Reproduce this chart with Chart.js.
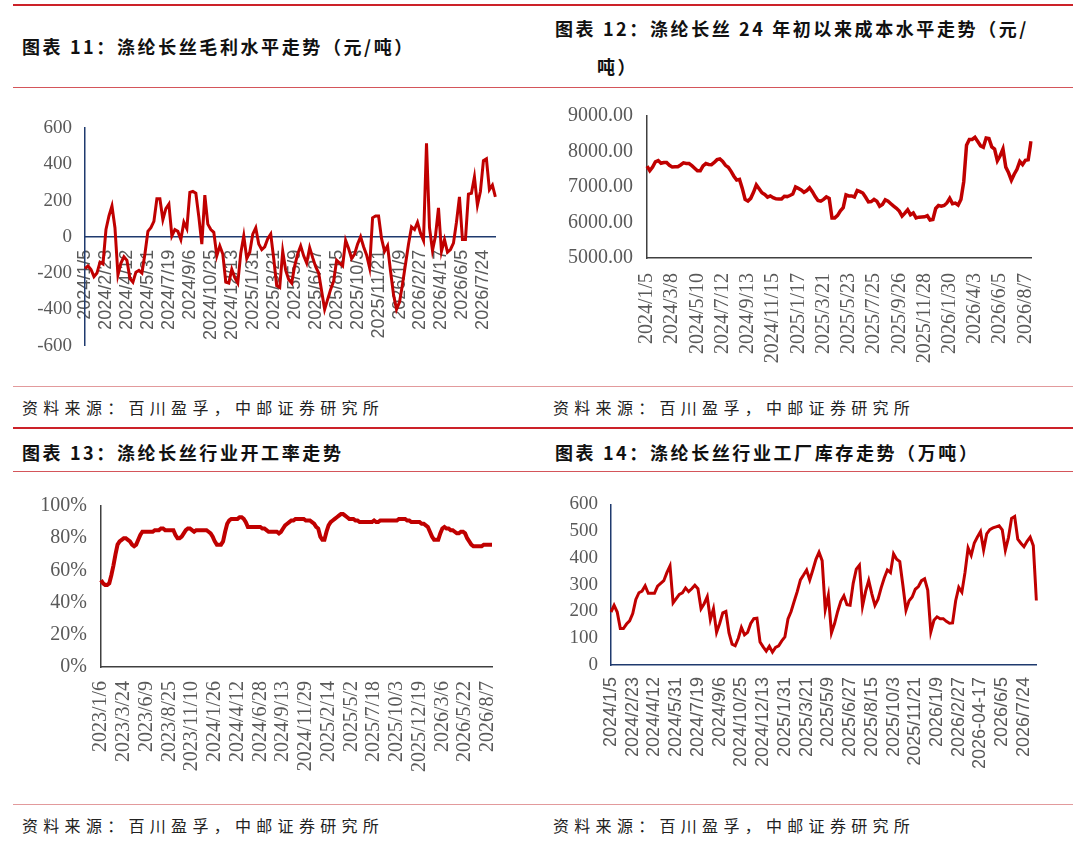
<!DOCTYPE html>
<html>
<head>
<meta charset="utf-8">
<script src="https://cdn.jsdelivr.net/npm/chart.js@4.4.1/dist/chart.umd.min.js"></script>
<style>
  body { margin: 0; width: 1080px; height: 854px; background: #fff; position: relative; overflow: hidden; font-family: "Noto Sans CJK SC", sans-serif; }
  .rule { position: absolute; left: 13px; width: 1060px; }
  .thick { height: 2px; background: #cc2229; }
  .thin { height: 1px; background: #d4555a; }
  .pale { height: 1px; background: #e29a9c; }
  .title { position: absolute; font-size: 18px; font-weight: 700; letter-spacing: 2.6px; color: #111; white-space: nowrap; line-height: 18px; }
  .src { position: absolute; font-size: 16px; letter-spacing: 5.3px; color: #222; white-space: nowrap; line-height: 17px; }
  .box { position: absolute; }
</style>
</head>
<body>
<div class="rule thick" style="top:4px"></div>
<div class="title" style="left:22px;top:37px">图表 11：涤纶长丝毛利水平走势（元/吨）</div>
<div class="title" style="left:555px;top:19px">图表 12：涤纶长丝 24 年初以来成本水平走势（元/</div>
<div class="title" style="left:597px;top:57px">吨）</div>
<div class="rule thin" style="top:87px"></div>

<div class="box" style="left:0;top:100px;width:530px;height:270px"><canvas id="c11"></canvas></div>
<div class="box" style="left:540px;top:90px;width:530px;height:290px"><canvas id="c12"></canvas></div>

<div class="rule pale" style="top:386px"></div>
<div class="src" style="left:22px;top:399px">资料来源：百川盈孚，中邮证券研究所</div>
<div class="src" style="left:553px;top:399px">资料来源：百川盈孚，中邮证券研究所</div>
<div class="rule thick" style="top:427px"></div>
<div class="title" style="left:22px;top:443px">图表 13：涤纶长丝行业开工率走势</div>
<div class="title" style="left:555px;top:443px">图表 14：涤纶长丝行业工厂库存走势（万吨）</div>
<div class="rule thin" style="top:471px"></div>

<div class="box" style="left:0;top:480px;width:530px;height:310px"><canvas id="c13"></canvas></div>
<div class="box" style="left:540px;top:480px;width:530px;height:310px"><canvas id="c14"></canvas></div>

<div class="rule pale" style="top:804px"></div>
<div class="src" style="left:22px;top:817px">资料来源：百川盈孚，中邮证券研究所</div>
<div class="src" style="left:553px;top:817px">资料来源：百川盈孚，中邮证券研究所</div>

<script>
// weekly series, tick label shown every few weeks
const ticks11 = ['2024/1/5', '2024/2/23', '2024/4/12', '2024/5/31', '2024/7/19', '2024/9/6', '2024/10/25', '2024/12/13', '2025/1/31', '2025/3/21',
  '2025/5/9', '2025/6/27', '2025/8/15', '2025/10/3', '2025/11/21', '2026/1/9', '2026/2/27', '2026/4/17', '2026/6/5', '2026/7/24'];
const margin11 = [-175, -160, -180, -220, -200, -140, -150, 40, 115, 170,
  50, -210, -145, -110, -130, -230, -250, -195, -185, -200,
  -95, 30, 50, 85, 210, 210, 95, 155, 180, 5,
  40, 30, -15, 80, 45, 245, 250, 240, 110, -40,
  230, 70, 40, 25, -105, -50, -95, -250, -255, -180,
  -225, -255, -90, 5, -120, -85, 15, 50, -40, -70,
  -55, -10, 15, -120, -270, -280, -80, -185, -235, -255,
  -160, -95, -50, -105, -145, -60, -115, -165, -200, -300,
  -400, -345, -290, -245, -130, -145, -160, -20, -65, -120,
  -95, -40, 0, -55, -100, -170, 105, 115, 115, -10,
  -80, -50, -190, -320, -400, -360, -260, -150, -40, 55,
  40, 80, 20, -20, 515, 50, -75, 5, 160, -80,
  -15, -85, -70, -35, 80, 220, -15, -15, 235, 240,
  330, 175, 250, 420, 430, 260, 285, 220];

const ticks12 = ['2024/1/5', '2024/3/8', '2024/5/10', '2024/7/12', '2024/9/13', '2024/11/15', '2025/1/17', '2025/3/21',
  '2025/5/23', '2025/7/25', '2025/9/26', '2025/11/28', '2026/1/30', '2026/4/3', '2026/6/5', '2026/8/7'];
const cost12 = [7590, 7460, 7560, 7710, 7745, 7670, 7690, 7690, 7610, 7565,
  7570, 7570, 7620, 7680, 7660, 7660, 7600, 7530, 7455, 7455,
  7595, 7660, 7635, 7630, 7690, 7770, 7790, 7720, 7610, 7555,
  7440, 7305, 7195, 7215, 6960, 6650, 6605, 6680, 6850, 7060,
  6950, 6840, 6790, 6715, 6750, 6700, 6665, 6660, 6660, 6740,
  6730, 6760, 6800, 7000, 6960, 6920, 6850, 6900, 6980, 6870,
  6730, 6620, 6600, 6650, 6720, 6680, 6130, 6130, 6200, 6330,
  6420, 6780, 6750, 6750, 6720, 6900, 6870, 6830, 6710, 6580,
  6590, 6650, 6600, 6460, 6510, 6640, 6600, 6530, 6460, 6400,
  6320, 6180, 6265, 6360, 6220, 6270, 6130, 6150, 6155, 6160,
  6190, 6070, 6085, 6395, 6480, 6460, 6480, 6550, 6680, 6530,
  6545, 6490, 6650, 7150, 8180, 8340, 8340, 8400, 8280, 8160,
  8120, 8380, 8365, 8130, 8070, 7740, 7880, 8070, 7560, 7400,
  7190, 7360, 7500, 7720, 7630, 7750, 7765, 8290];

const ticks13 = ['2023/1/6', '2023/3/24', '2023/6/9', '2023/8/25', '2023/11/10', '2024/1/26', '2024/4/12', '2024/6/28', '2024/9/13',
  '2024/11/29', '2025/2/14', '2025/5/2', '2025/7/18', '2025/10/3', '2025/12/19', '2026/3/6', '2026/5/22', '2026/8/7'];
const rate13 = [54, 52, 51, 51, 52, 57, 63, 70, 76, 78,
  79, 80, 80, 79, 78, 76, 75, 76, 79, 82,
  84, 84, 84, 84, 84, 84, 85, 85, 85, 86,
  86, 85, 85, 85, 85, 85, 82, 80, 80, 81,
  83, 85, 86, 86, 85, 84, 85, 85, 85, 85,
  85, 85, 84, 83, 81, 78, 76, 76, 76, 78,
  84, 89, 91, 92, 92, 92, 92, 93, 93, 92,
  90, 87, 87, 87, 87, 87, 87, 87, 86, 86,
  85, 84, 84, 84, 84, 84, 83, 84, 86, 88,
  89, 90, 91, 91, 92, 92, 92, 92, 92, 91,
  91, 91, 90, 89, 87, 86, 81, 79, 79, 84,
  88, 90, 91, 92, 93, 94, 95, 95, 94, 93,
  92, 92, 92, 91, 91, 90, 90, 90, 90, 90,
  90, 90, 91, 90, 90, 91, 91, 91, 91, 91,
  91, 91, 91, 91, 92, 92, 92, 92, 91, 91,
  90, 90, 90, 90, 90, 89, 89, 88, 87, 84,
  81, 79, 79, 79, 83, 86, 87, 86, 86, 85,
  85, 84, 83, 83, 84, 84, 83, 80, 78, 76,
  75, 75, 75, 75, 75, 76, 76, 76, 76, 76];

const ticks14 = ['2024/1/5', '2024/2/23', '2024/4/12', '2024/5/31', '2024/7/19', '2024/9/6', '2024/10/25', '2024/12/13', '2025/1/31', '2025/3/21',
  '2025/5/9', '2025/6/27', '2025/8/15', '2025/10/3', '2025/11/21', '2026/1/9', '2026/2/27', '2026-04-17', '2026/6/5', '2026/7/24'];
const stock14 = [198, 223, 198, 136, 136, 153, 165, 192, 245, 270,
  276, 296, 268, 268, 268, 295, 305, 315, 345, 370,
  232, 248, 264, 270, 288, 274, 285, 298, 285, 210,
  229, 255, 170, 210, 122, 155, 195, 200, 120, 78,
  72, 100, 140, 113, 122, 155, 173, 175, 86, 68,
  52, 70, 48, 66, 72, 90, 105, 172, 200, 238,
  275, 318, 336, 355, 318, 355, 395, 421, 390, 207,
  260, 120, 155, 200, 238, 258, 225, 223, 305, 358,
  373, 220, 275, 316, 266, 223, 246, 288, 325, 355,
  345, 415, 395, 386, 298, 205, 240, 254, 283, 293,
  315, 322, 280, 124, 167, 180, 173, 173, 163, 156,
  157, 240, 290, 272, 345, 437, 410, 456, 478, 498,
  430, 490, 506, 512, 516, 520, 505, 429, 476, 548,
  555, 470, 455, 442, 462, 478, 446, 241];

const SERIF = '"Liberation Serif", "Times New Roman", serif';
const SANS = '"Liberation Sans", Arial, sans-serif';
const NAVY = '#1f3a6e';
const GREY = '#595959';

// one category per week, only every n-th week carries a visible label
function weekLabels(values, ticks, every) {
  return values.map((_, i) => (i % every === 0 && ticks[i / every]) ? ticks[i / every] : '');
}

function drawLine(id, labels, values, o) {
  return new Chart(document.getElementById(id), {
    type: 'line',
    data: {
      labels: labels,
      datasets: [{
        data: values,
        borderColor: '#c00000',
        borderWidth: o.lineWidth,
        pointRadius: 0,
        tension: 0,
        fill: false
      }]
    },
    options: {
      responsive: true,
      maintainAspectRatio: false,
      animation: false,
      layout: { padding: o.padding },
      plugins: { legend: { display: false }, tooltip: { enabled: false } },
      scales: {
        x: {
          position: o.xPosition || 'bottom',
          grid: { display: false, drawTicks: false },
          border: { color: o.axisColor, width: 1.5 },
          ticks: {
            autoSkip: false, minRotation: 90, maxRotation: 90,
            padding: o.xPad, color: GREY, font: o.xFont
          },
          afterFit: (s) => { s.height = o.xHeight; }
        },
        y: {
          min: o.min, max: o.max,
          grid: { display: false, drawTicks: false },
          border: { color: o.axisColor, width: 1.5 },
          ticks: {
            stepSize: o.step, padding: o.yPad, color: GREY, font: o.yFont,
            callback: o.yFormat
          },
          afterFit: (s) => { s.width = o.yWidth; }
        }
      }
    }
  });
}

// 图表11 毛利
drawLine('c11', weekLabels(margin11, ticks11, 7), margin11, {
  lineWidth: 3, axisColor: NAVY, xPosition: { y: 0 },
  padding: { top: 28, bottom: 23, right: 15, left: 0 },
  xHeight: 0, xPad: 13, xFont: { family: SANS, size: 18 },
  yWidth: 85, yPad: 13, yFont: { family: SERIF, size: 19 },
  min: -600, max: 600, step: 200, yFormat: (v) => v
});

// 图表12 成本
drawLine('c12', weekLabels(cost12, ticks12, 9), cost12, {
  lineWidth: 3.5, axisColor: '#404040',
  padding: { top: 17, bottom: 0, right: 23, left: 0 },
  xHeight: 122, xPad: 15, xFont: { family: SERIF, size: 20 },
  yWidth: 107, yPad: 14, yFont: { family: SERIF, size: 20 },
  min: 5000, max: 9000, step: 1000, yFormat: (v) => v.toFixed(2)
});

// 图表13 开工率
drawLine('c13', weekLabels(rate13, ticks13, 11), rate13, {
  lineWidth: 4, axisColor: '#404040',
  padding: { top: 19, bottom: 0, right: 37, left: 0 },
  xHeight: 123, xPad: 14, xFont: { family: SERIF, size: 20 },
  yWidth: 101, yPad: 14, yFont: { family: SERIF, size: 20 },
  min: 0, max: 100, step: 20, yFormat: (v) => v + '%'
});

// 图表14 库存
drawLine('c14', weekLabels(stock14, ticks14, 7), stock14, {
  lineWidth: 3, axisColor: NAVY,
  padding: { top: 23, bottom: 0, right: 24, left: 0 },
  xHeight: 125, xPad: 12, xFont: { family: SANS, size: 18 },
  yWidth: 71, yPad: 13, yFont: { family: SERIF, size: 19 },
  min: 0, max: 600, step: 100, yFormat: (v) => v
});
</script>
</body>
</html>
